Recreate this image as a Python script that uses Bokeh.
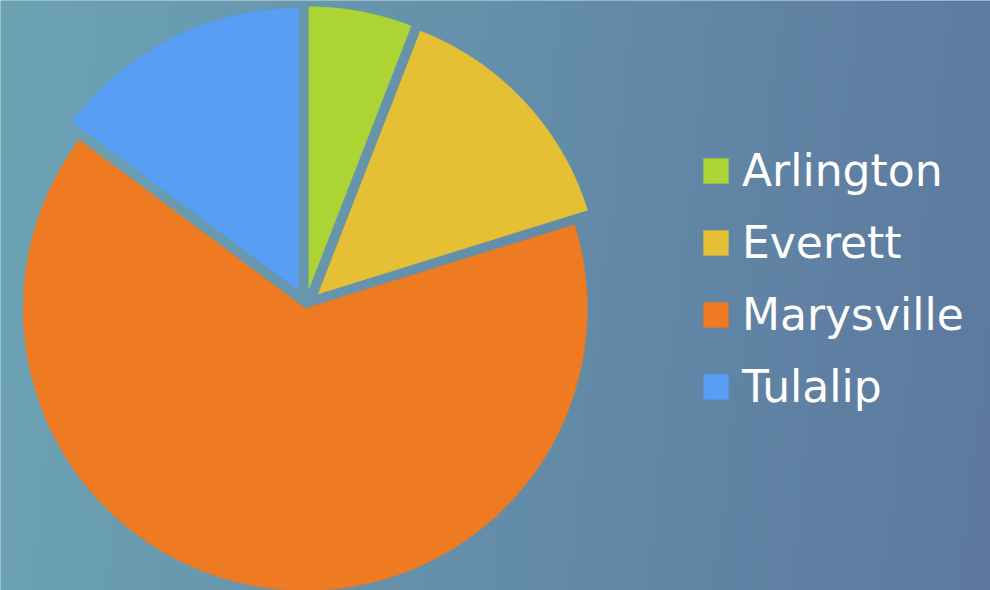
import numpy as np
from bokeh.plotting import figure
from bokeh.models import Range1d, Legend, LegendItem
from bokeh.embed import file_html
from bokeh.resources import INLINE

# ---- data ----
cities = ["Arlington", "Everett", "Marysville", "Tulalip"]
shares = [5.9, 14.3, 65.0, 14.8]
colors = ["#acd434", "#e5c034", "#ee7a22", "#589ef5"]

# ---- layout / style ----
W, H = 990, 590
CX, CY = 305.3, H - 305.0   # pie centre (data units = pixels, y up)
R = 282.0
explode = [17.0, 17.0, 3.0, 17.0]

p = figure(width=W, height=H, x_range=Range1d(0, W), y_range=Range1d(0, H),
           output_backend="svg", toolbar_location=None, min_border=0,
           outline_line_color=None)
p.axis.visible = False
p.grid.visible = False
p.background_fill_color = "#6a8fab"
p.border_fill_color = "#6a8fab"

# background gradient (decoration)
gh, gw = 118, 198
yy, xx = np.mgrid[0:gh, 0:gw]
t = np.clip(0.88 * xx / (gw - 1) + 0.06 * (yy / (gh - 1)), 0, 1)
left = np.array([108, 164, 180])
right = np.array([92, 118, 158])
rgb = left[None, None, :] * (1 - t[..., None]) + right[None, None, :] * t[..., None]
img = np.empty((gh, gw), dtype=np.uint32)
view = img.view(dtype=np.uint8).reshape((gh, gw, 4))
view[..., 0] = rgb[..., 0].astype(np.uint8)
view[..., 1] = rgb[..., 1].astype(np.uint8)
view[..., 2] = rgb[..., 2].astype(np.uint8)
view[..., 3] = 255
p.image_rgba(image=[img[::-1]], x=0, y=0, dw=W, dh=H)

# ---- pie slices (clockwise from 12 o'clock) ----
total = float(sum(shares))
bounds = np.concatenate([[0.0], np.cumsum(shares) / total * 2 * np.pi])
items = []
for i, name in enumerate(cities):
    a0, a1 = bounds[i], bounds[i + 1]
    mid = 0.5 * (a0 + a1)
    ox = CX + explode[i] * np.sin(mid)
    oy = CY + explode[i] * np.cos(mid)
    n = max(8, int((a1 - a0) / (2 * np.pi) * 720))
    ang = np.linspace(a0, a1, n)
    xs = np.concatenate([[ox], ox + R * np.sin(ang)])
    ys = np.concatenate([[oy], oy + R * np.cos(ang)])
    r = p.patch(xs, ys, fill_color=colors[i], line_color=colors[i], line_width=0.5)
    items.append(LegendItem(label=name, renderers=[r]))

legend = Legend(items=items, location=(700, 178),
                glyph_width=31, glyph_height=31, label_standoff=11,
                label_text_font="DejaVu Sans",
                label_text_font_size="44px",
                label_text_color="white", spacing=21, padding=0, margin=0,
                background_fill_alpha=0, border_line_alpha=0)
p.add_layout(legend)

open("out.html", "w").write(file_html(p, INLINE))
